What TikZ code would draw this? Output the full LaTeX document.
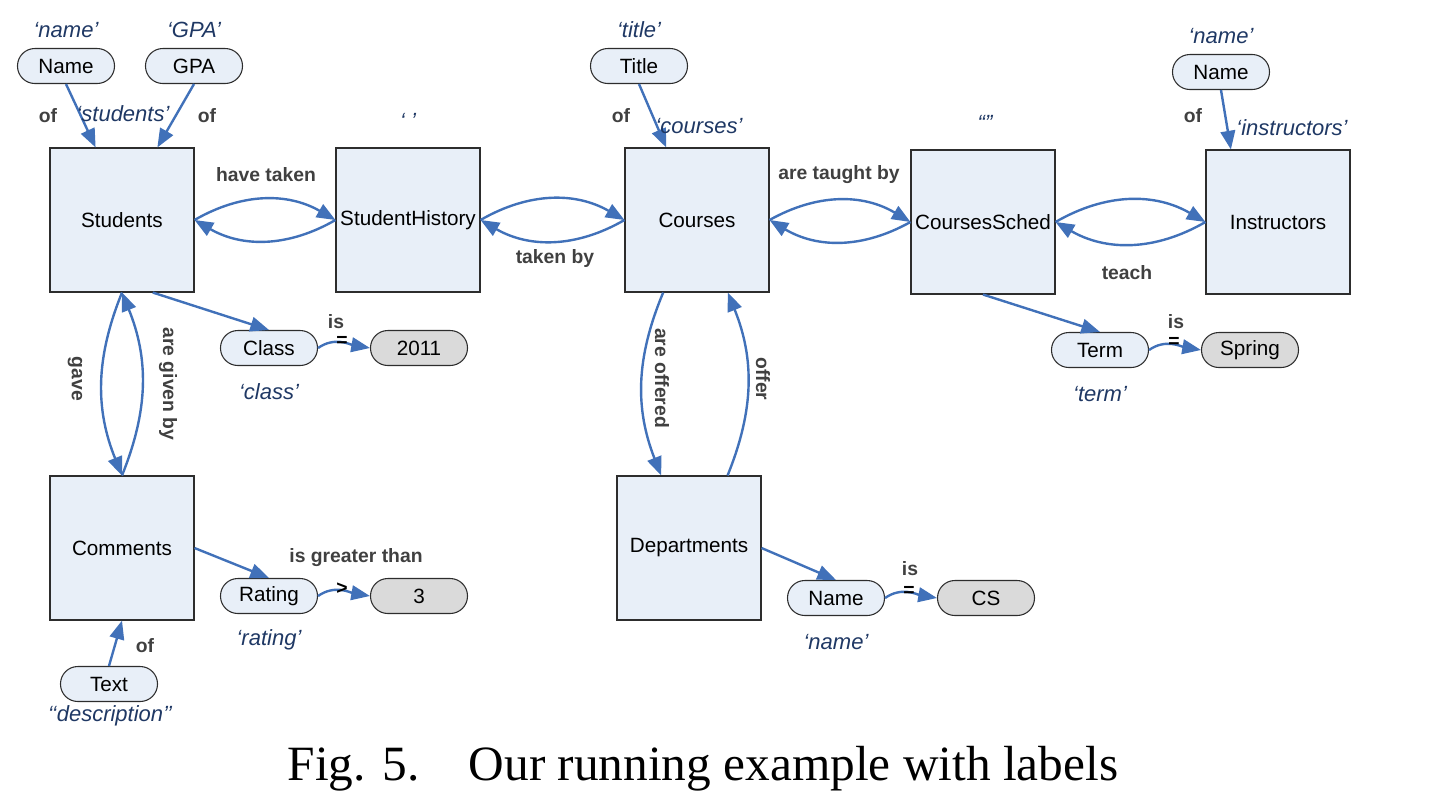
\documentclass[tikz,border=0pt]{standalone}
\usepackage{fontspec}
\setmainfont{Liberation Sans}
\newfontfamily\capfont{Liberation Serif}
\usetikzlibrary{arrows.meta}
\definecolor{boxfill}{RGB}{232,239,248}
\definecolor{valfill}{RGB}{218,218,218}
\definecolor{edgeblue}{RGB}{65,113,185}
\definecolor{relgray}{RGB}{64,64,64}
\definecolor{labnavy}{RGB}{31,56,100}
\definecolor{outline}{RGB}{45,45,45}

\begin{document}
\begin{tikzpicture}[x=0.75pt,y=0.75pt,yscale=-1,xscale=1,
  relation/.style={draw=outline, fill=boxfill, line width=0.8pt, minimum width=108pt, minimum height=108pt, inner sep=0pt, font=\fontsize{15.5}{18}\selectfont},
  attrib/.style={draw=outline, fill=boxfill, line width=0.8pt, rounded corners=13pt, minimum width=72.75pt, minimum height=26.25pt, inner sep=0pt, font=\fontsize{15.5}{18}\selectfont},
  value/.style={attrib, fill=valfill},
  link/.style={draw=edgeblue, line width=1.8pt, -{Triangle[length=14pt,width=11pt]}},
  rel/.style={inner sep=0.75pt, text=relgray, font=\bfseries\fontsize{14.5}{17}\selectfont},
  lab/.style={inner sep=0.75pt, text=labnavy, font=\itshape\fontsize{16.5}{19}\selectfont},
  op/.style={inner sep=0.75pt, font=\bfseries\fontsize{14.5}{17}\selectfont}]
%set diagram to the size of the reference
\useasboundingbox (0,0) rectangle (1429,811);

%Shape: Rectangle [relations]
\node[relation] (Students) at (122,220) {Students};
\node[relation] (StudentHistory) at (408,220) {StudentHistory};
\node[relation] (Courses) at (697,220) {Courses};
\node[relation] (CoursesSched) at (983,222) {CoursesSched};
\node[relation] (Instructors) at (1278,222) {Instructors};
\node[relation] (Comments) at (122,548) {Comments};
\node[relation] (Departments) at (689,548) {Departments};

%Shape: Rounded Rectangle [attributes]
\node[attrib] (SName) at (66,66) {Name};
\node[attrib] (GPA) at (194,66) {GPA};
\node[attrib] (Title) at (639,66) {Title};
\node[attrib] (IName) at (1221,72) {Name};
\node[attrib] (Class) at (269,348) {Class};
\node[attrib] (Term) at (1100,350) {Term};
\node[attrib] (Rating) at (269,596) {Rating};
\node[attrib] (Text) at (109,684) {Text};
\node[attrib] (DName) at (836,598) {Name};

%Shape: Rounded Rectangle [values]
\node[value] (Year) at (419,348) {2011};
\node[value] (Spring) at (1250,350) {Spring};
\node[value] (Three) at (419,596) {3};
\node[value] (CS) at (986,598) {CS};

%Straight Lines
\draw[link] (SName.south) -- (Students.110);
\draw[link] (GPA.south) -- (Students.64);
\draw[link] (Title.south) -- (Courses.113);
\draw[link] (IName.south) -- (Instructors.123);
\draw[link] (Students.-67) -- (Class.north);
\draw[link] (Comments.east) -- (Rating.north);
\draw[link] (Text.north) -- (Comments.south);
\draw[link] (CoursesSched.south) -- (Term.north);
\draw[link] (Departments.east) -- (DName.north);

%Curve Lines
\draw[link] (Students.east) to[bend right=30] (StudentHistory.west);
\draw[link] (StudentHistory.west) to[bend right=30] (Students.east);
\draw[link] (StudentHistory.east) to[bend right=30] (Courses.west);
\draw[link] (Courses.west) to[bend right=30] (StudentHistory.east);
\draw[link] (Courses.east) to[bend right=30] (CoursesSched.west);
\draw[link] (CoursesSched.west) to[bend right=30] (Courses.east);
\draw[link] (CoursesSched.east) to[bend right=30] (Instructors.west);
\draw[link] (Instructors.west) to[bend right=30] (CoursesSched.east);
\draw[link] (Students.south) to[bend left=22] (Comments.north);
\draw[link] (Comments.north) to[bend left=22] (Students.south);
\draw[link] (Courses.-115) to[bend left=22] (Departments.111);
\draw[link] (Departments.62) to[bend left=22] (Courses.-67);
\draw[link] (Class.east) to[out=-35,in=-170] (Year.west);
\draw[link] (Term.east) to[out=-35,in=-170] (Spring.west);
\draw[link] (Rating.east) to[out=-35,in=-170] (Three.west);
\draw[link] (DName.east) to[out=-35,in=-170] (CS.west);

% Text Node
\node[lab] (lSName) at (66,30) {‘name’};
\node[lab] (lGPA) at (194,30) {‘GPA’};
\node[lab] (lStudents) at (123,114) {‘students’};
\node[lab] (lStudentHistory) at (408,121) {‘ ’};
\node[lab] (lTitle) at (639,30) {‘title’};
\node[lab] (lCourses) at (699,126) {‘courses’};
\node[lab] (lCoursesSched) at (985,123) {“”};
\node[lab] (lIName) at (1221,36) {‘name’};
\node[lab] (lInstructors) at (1292,128) {‘instructors’};
\node[lab] (lClass) at (269,392) {‘class’};
\node[lab] (lTerm) at (1100,394) {‘term’};
\node[lab] (lRating) at (269,640) {‘rating’};
\node[lab] (lDName) at (836,642) {‘name’};
\node[lab] (lText) at (110,716) {‘‘description’’};

% Text Node
\node[rel] (ofSName) at (48,116) {of};
\node[rel] (ofGPA) at (207,116) {of};
\node[rel] (ofTitle) at (621,116) {of};
\node[rel] (ofIName) at (1193,116) {of};
\node[rel] (ofText) at (145,646) {of};
\node[rel] (haveTaken) at (266,175) {have taken};
\node[rel] (takenBy) at (555,258) {taken by};
\node[rel] (taughtBy) at (839,175) {are taught by};
\node[rel] (teach) at (1127,273) {teach};
\node[rel, rotate=-90] (gave) at (75,379) {gave};
\node[rel, rotate=-90] (givenBy) at (168,384) {are given by};
\node[rel, rotate=-90] (offered) at (662,378) {are offered};
\node[rel, rotate=-90] (offer) at (763,379) {offer};
\node[rel] (isClass) at (336,322) {is};
\node[rel] (isTerm) at (1176,322) {is};
\node[rel] (isDName) at (910,569) {is};
\node[rel] (greater) at (356,558) {is greater than};
\node[op] (eqClass) at (342,341) {=};
\node[op] (eqTerm) at (1174,342) {=};
\node[op] (eqDName) at (909,591) {=};
\node[op] (gtRating) at (342,589) {>};

% Caption
\node[inner sep=0pt, font=\capfont\fontsize{37}{44}\selectfont] (caption) at (703,769) {Fig. 5.\quad Our running example with labels};

\end{tikzpicture}
\end{document}
